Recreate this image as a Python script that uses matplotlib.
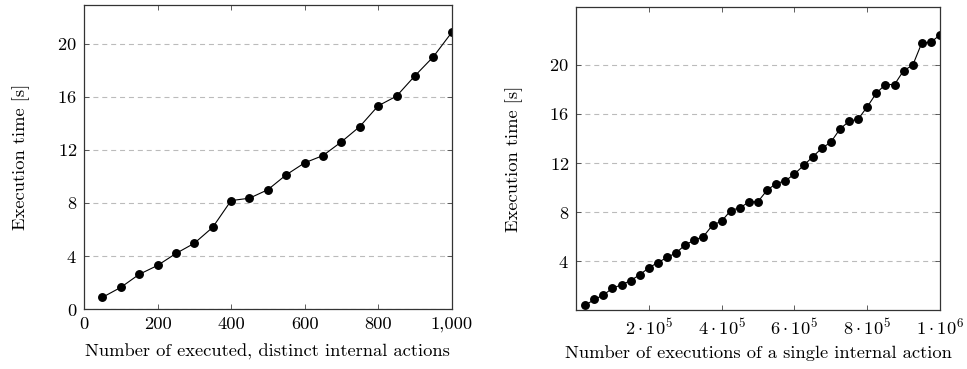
import matplotlib
matplotlib.use('Agg')
import matplotlib.pyplot as plt
import numpy as np

plt.rcParams['font.family'] = 'cmr10'
plt.rcParams['mathtext.fontset'] = 'cm'
plt.rcParams['axes.formatter.use_mathtext'] = True

# left panel: number of distinct internal actions
actions_x = [50, 100, 150, 200, 250, 300, 350, 400, 450, 500,
             550, 600, 650, 700, 750, 800, 850, 900, 950, 1000]
actions_t = [0.9, 1.65, 2.63, 3.3, 4.2, 4.97, 6.17, 8.18, 8.36, 9.0,
             10.12, 11.02, 11.57, 12.6, 13.75, 15.31, 16.04, 17.57, 19.0, 20.83]

# right panel: executions of one internal action (25k steps)
execs_x = [25000 * i for i in range(1, 41)]
execs_t = [0.39, 0.88, 1.23, 1.80, 2.07, 2.42, 2.89, 3.46, 3.89, 4.30,
           4.68, 5.33, 5.71, 6.01, 6.94, 7.26, 8.13, 8.35, 8.82, 8.86,
           9.79, 10.33, 10.55, 11.1, 11.8, 12.5, 13.2, 13.7, 14.77, 15.4,
           15.58, 16.58, 17.7, 18.4, 18.4, 19.54, 19.97, 21.8, 21.85, 22.45]

left_xticks = [0, 200, 400, 600, 800, 1000]
left_xlabels = ['0', '200', '400', '600', '800', '1,000']
left_yticks = [0, 4, 8, 12, 16, 20]
right_xticks = [200000, 400000, 600000, 800000, 1000000]
right_xlabels = [r'$2\cdot10^{5}$', r'$4\cdot10^{5}$', r'$6\cdot10^{5}$',
                 r'$8\cdot10^{5}$', r'$1\cdot10^{6}$']
right_yticks = [4, 8, 12, 16, 20]

FS = 13.3

fig = plt.figure(figsize=(9.67, 3.69), dpi=100)
ax1 = fig.add_axes([0.0869, 0.1618, 0.3802, 0.8247])
ax2 = fig.add_axes([0.5957, 0.1593, 0.3764, 0.821])


def style(ax):
    ax.tick_params(direction='in', length=3.6, width=0.6, top=True, right=True,
                   labelsize=FS, pad=5, color='#444444')
    for s in ax.spines.values():
        s.set_linewidth(0.9)
        s.set_color('#333333')
    ax.yaxis.grid(True, color='#bbbbbb', linewidth=0.8, linestyle=(0, (4.5, 3.5)))
    ax.set_axisbelow(True)


ax1.plot(actions_x, actions_t, color='black', lw=0.8, marker='o', ms=5.4)
ax1.set_xlim(0, 1000)
ax1.set_ylim(0, 22.9)
ax1.set_xticks(left_xticks)
ax1.set_xticklabels(left_xlabels)
ax1.set_yticks(left_yticks)
style(ax1)
ax1.set_xlabel('Number of executed, distinct internal actions', fontsize=FS, labelpad=8.5)
ax1.set_ylabel('Execution time [s]', fontsize=FS, labelpad=20)

ax2.plot(execs_x, execs_t, color='black', lw=0.8, marker='o', ms=5.4)
ax2.set_xlim(0, 1000000)
ax2.set_ylim(0, 24.7)
ax2.set_xticks(right_xticks)
ax2.set_xticklabels(right_xlabels)
ax2.set_yticks(right_yticks)
style(ax2)
ax2.set_xlabel('Number of executions of a single internal action', fontsize=FS, labelpad=5)
ax2.set_ylabel('Execution time [s]', fontsize=FS, labelpad=19)

fig.savefig('out.png', dpi=100, facecolor='white')
